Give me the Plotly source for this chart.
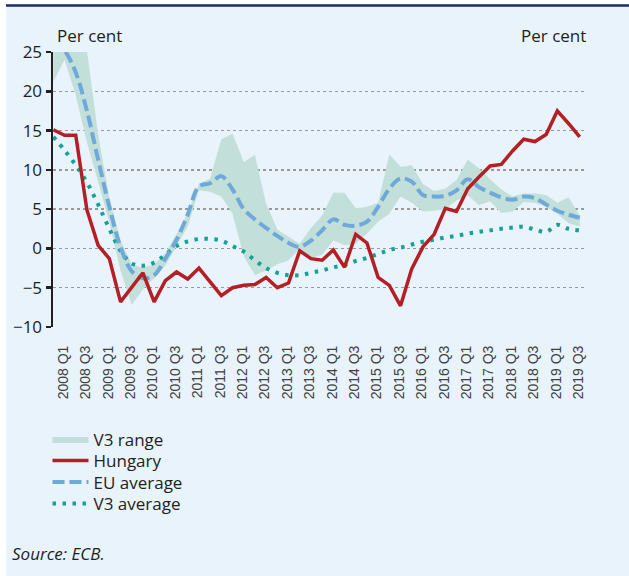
import plotly.graph_objects as go

# ---------------- data ----------------
tick_labels = ["2008 Q1", "2008 Q3", "2009 Q1", "2009 Q3", "2010 Q1", "2010 Q3",
               "2011 Q1", "2011 Q3", "2012 Q1", "2012 Q3", "2013 Q1", "2013 Q3",
               "2014 Q1", "2014 Q3", "2015 Q1", "2015 Q3", "2016 Q1", "2016 Q3",
               "2017 Q1", "2017 Q3", "2018 Q1", "2018 Q3", "2019 Q1", "2019 Q3"]

hungary = [15.1, 14.4, 14.4, 4.9, 0.4, -1.3, -6.8, -4.9, -3.1, -6.8,
           -4.1, -3.0, -3.9, -2.5, -4.3, -6.0, -5.0, -4.7, -4.6, -3.7,
           -5.0, -4.4, -0.3, -1.3, -1.5, -0.2, -2.4, 1.8, 0.7, -3.7,
           -4.7, -7.3, -2.6, 0.2, 1.8, 5.1, 4.7, 7.6, 9.1, 10.5,
           10.7, 12.4, 13.9, 13.6, 14.5, 17.5, 15.9, 14.2]

eu_average = [26.5, 25.2, 22.4, 17.5, 11.3, 5.3, 0.2, -2.9, -3.8, -3.4,
              -1.3, 1.1, 4.3, 7.9, 8.3, 9.2, 7.5, 5.0, 3.7, 2.6,
              1.6, 0.7, 0.2, 1.0, 2.3, 3.7, 3.0, 2.9, 3.4, 5.3,
              7.6, 8.9, 8.5, 6.8, 6.6, 6.7, 7.4, 8.8, 7.8, 7.1,
              6.5, 6.2, 6.6, 6.4, 5.6, 4.8, 4.3, 3.9]

v3_average = [14.2, 12.5, 10.6, 8.4, 5.6, 2.5, -0.3, -1.9, -2.2, -1.8,
              -0.8, 0.3, 0.9, 1.2, 1.2, 1.0, 0.3, -0.4, -1.5, -2.5,
              -3.1, -3.4, -3.4, -3.1, -2.8, -2.4, -2.1, -1.6, -1.2, -0.7,
              -0.2, 0.1, 0.5, 0.85, 1.1, 1.4, 1.6, 1.9, 2.1, 2.3,
              2.5, 2.65, 2.75, 2.4, 2.1, 3.0, 2.5, 2.3]

v3_low = [21.2, 24.0, 19.5, 13.5, 8.5, 3.3, -2.8, -7.2, -5.2, -3.8,
          -2.2, 0.3, 2.8, 7.4, 7.2, 6.6, 4.4, -1.0, -3.4, -2.8,
          -2.0, -1.5, 0.0, -1.2, -0.8, 1.0, 0.4, 0.6, 1.9, 3.4,
          4.4, 6.6, 5.8, 4.7, 4.8, 5.0, 6.1, 6.8, 5.5, 6.0,
          4.5, 4.7, 5.9, 5.8, 5.3, 4.4, 3.2, 2.8]

v3_high = [28.0, 27.5, 27.0, 25.2, 14.5, 6.5, 1.0, -2.0, -2.5, -2.0,
           -0.6, 1.8, 4.5, 8.2, 8.9, 13.9, 14.6, 11.0, 11.9, 5.7,
           2.4, 1.5, 0.6, 2.6, 4.2, 7.1, 7.1, 5.1, 5.3, 5.8,
           12.0, 10.4, 10.6, 8.2, 7.3, 7.6, 8.7, 11.3, 10.2, 8.8,
           7.5, 6.6, 7.0, 7.0, 6.8, 5.8, 6.5, 4.2]

x = list(range(len(hungary)))
label_pos = [i + 0.88 for i in range(0, len(hungary), 2)]

# ---------------- style ----------------
W, H = 629, 576
L, R, T, B = 53, 42, 52, 249
PW, PH = W - L - R, H - T - B

def px_x(p):
    return (p - L) / PW

def px_y(p):
    return (H - B - p) / PH

BG = "#E8F3FB"
FILL = "#C3DFD9"
RED = "#B31F25"
BLUE = "#6FA9DA"
TEAL = "#16A196"
DARK = "#231F20"
NAVY = "#1B2A6B"
FONT = "Open Sans"

xr = [-0.03, 47.65]

fig = go.Figure()
fig.add_trace(go.Scatter(x=x, y=v3_low, mode="lines", line=dict(width=0, color=FILL),
                         showlegend=False, hoverinfo="skip"))
fig.add_trace(go.Scatter(x=x, y=v3_high, mode="lines", line=dict(width=0, color=FILL),
                         fill="tonexty", fillcolor=FILL, name="V3 range", legend="legend"))
fig.add_trace(go.Scatter(x=x, y=v3_average, mode="lines",
                         line=dict(color=TEAL, width=4, dash="3.5px,6.5px", shape="spline"),
                         name="V3 average", legend="legend4"))
fig.add_trace(go.Scatter(x=x, y=eu_average, mode="lines",
                         line=dict(color=BLUE, width=4, dash="12px,5px", shape="spline"),
                         name="EU average", legend="legend3"))
fig.add_trace(go.Scatter(x=x, y=hungary, mode="lines",
                         line=dict(color=RED, width=3.5), name="Hungary", legend="legend2"))

legend_rows = {"legend": 439.5, "legend2": 461.0, "legend3": 482.5, "legend4": 504.0}
legend_style = {}
for key, row_y in legend_rows.items():
    legend_style[key] = dict(x=px_x(47.5), y=px_y(row_y), xanchor="left", yanchor="middle",
                             bgcolor="rgba(0,0,0,0)", itemwidth=36,
                             font=dict(family=FONT, size=17, color=DARK))

fig.update_layout(
    width=W, height=H,
    margin=dict(l=L, r=R, t=T, b=B, pad=0),
    paper_bgcolor="white", plot_bgcolor=BG,
    font=dict(family=FONT, size=17, color=DARK),
    hovermode=False,
    xaxis=dict(range=xr, tickvals=label_pos, ticktext=tick_labels, tickangle=-90,
               ticks="outside", ticklen=12, tickcolor="rgba(0,0,0,0)",
               showgrid=False, zeroline=False, showline=False,
               tickfont=dict(family="Liberation Sans", size=14, color="#404040")),
    xaxis2=dict(overlaying="x", anchor="free", position=10 / 35, side="bottom",
                range=xr, tick0=xr[0], dtick=(xr[1] - xr[0]) / 29,
                ticks="outside", ticklen=5, tickwidth=2.5, tickcolor=DARK,
                showline=True, linewidth=2.5, linecolor=DARK,
                showticklabels=False, showgrid=False, zeroline=False),
    yaxis=dict(range=[-10, 25], dtick=5, tick0=0, showgrid=True, griddash="dot",
               gridcolor="#9A9A9A", gridwidth=1.5, zeroline=False,
               showline=True, linewidth=2.5, linecolor=DARK,
               ticks="outside", ticklen=5, tickwidth=2.5, tickcolor=DARK,
               tickfont=dict(family=FONT, size=17, color=DARK)),
    yaxis2=dict(overlaying="y", side="right", anchor="x", range=[-10, 25], dtick=5, tick0=0,
                showgrid=False, zeroline=False, showline=True, linewidth=2.5, linecolor=DARK,
                ticks="outside", ticklen=5, tickwidth=2.5, tickcolor=DARK,
                tickfont=dict(family=FONT, size=17, color=DARK)),
    showlegend=True,
    **legend_style,
)

fig.add_shape(type="rect", xref="paper", yref="paper",
              x0=px_x(6), x1=px_x(W + 5), y0=px_y(H + 5), y1=px_y(6),
              fillcolor=BG, line=dict(width=0), layer="below")
fig.add_shape(type="line", xref="paper", yref="paper",
              x0=px_x(6), x1=px_x(W + 5), y0=px_y(5.5), y1=px_y(5.5),
              line=dict(color=NAVY, width=2.5))

fig.add_annotation(text="Per cent", xref="paper", yref="paper", x=px_x(55), y=px_y(35),
                   xanchor="left", yanchor="middle", showarrow=False,
                   font=dict(family=FONT, size=17, color=DARK))
fig.add_annotation(text="Per cent", xref="paper", yref="paper", x=px_x(588), y=px_y(35),
                   xanchor="right", yanchor="middle", showarrow=False,
                   font=dict(family=FONT, size=17, color=DARK))
fig.add_annotation(text="<i>Source: ECB.</i>", xref="paper", yref="paper", x=px_x(10), y=px_y(553),
                   xanchor="left", yanchor="middle", showarrow=False,
                   font=dict(family=FONT, size=17, color=DARK))

fig.write_html("out.html", config={"displayModeBar": False, "staticPlot": True},
               post_script="document.body.style.margin='0';document.body.style.overflow='hidden';")
